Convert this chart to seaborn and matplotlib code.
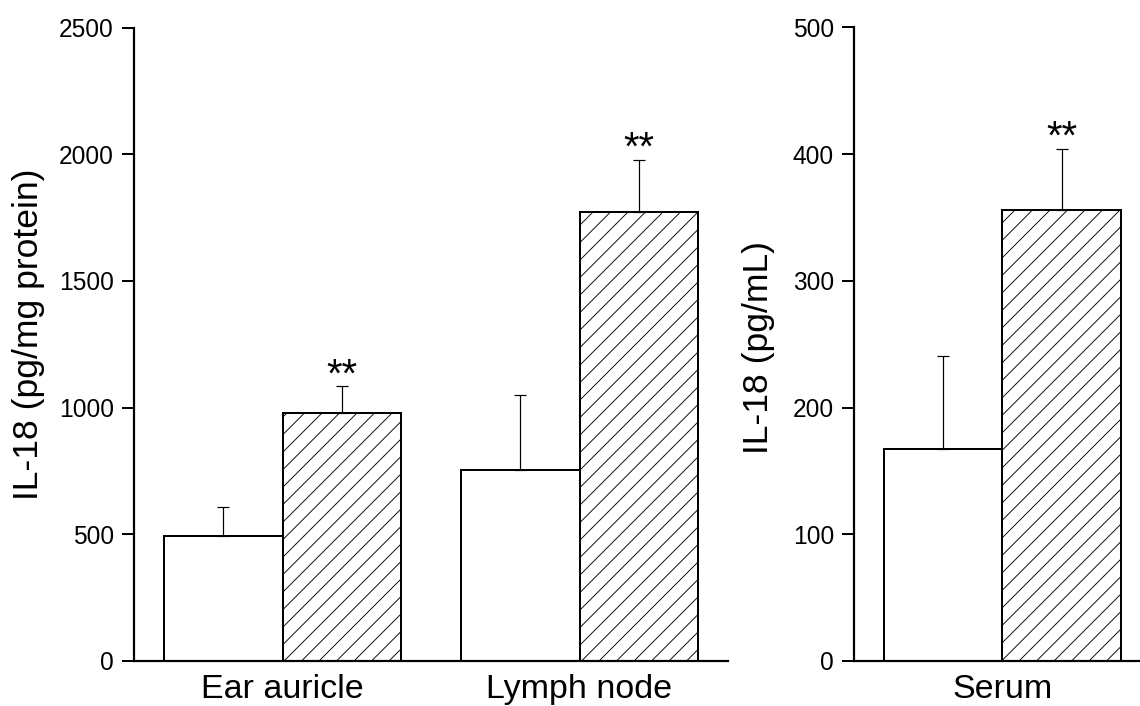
import matplotlib
matplotlib.use("Agg")
import matplotlib.pyplot as plt
import seaborn as sns
import pandas as pd
import numpy as np

# ---- data ----
groups = ["Control", "Treated"]
tissue_categories = ["Ear auricle", "Lymph node"]
tissue_control = [494, 755]
tissue_treated = [979, 1772]
tissue_control_sd = [112, 293]
tissue_treated_sd = [105, 206]
tissue_ylabel = "IL-18 (pg/mg protein)"
tissue_yticks = [0, 500, 1000, 1500, 2000, 2500]

serum_categories = ["Serum"]
serum_control = [167]
serum_treated = [356]
serum_control_sd = [74]
serum_treated_sd = [48]
serum_ylabel = "IL-18 (pg/mL)"
serum_yticks = [0, 100, 200, 300, 400, 500]

signif = "**"

DPI = 105
W, H = 1140, 706


def pt(px):
    return px * 72.0 / DPI


sns.set_theme(style="ticks")
plt.rcParams["font.family"] = ["Liberation Sans", "DejaVu Sans"]
plt.rcParams["hatch.linewidth"] = pt(0.9)
plt.rcParams["hatch.color"] = "black"
plt.rcParams["text.color"] = "black"
plt.rcParams["axes.labelcolor"] = "black"

fig = plt.figure(figsize=(W / DPI, H / DPI), dpi=DPI)
axL = fig.add_axes([134 / W, 45 / H, 594 / W, 633.5 / H])
axR = fig.add_axes([854 / W, 45 / H, 286 / W, 633.5 / H])


def draw(ax, cats, ctrl, trt, ctrl_sd, trt_sd, ylabel, yticks, xlim, labx, laby):
    df = pd.DataFrame({
        "cat": cats * 2,
        "group": [groups[0]] * len(cats) + [groups[1]] * len(cats),
        "value": list(ctrl) + list(trt),
    })
    sd = list(ctrl_sd) + list(trt_sd)
    sns.barplot(data=df, x="cat", y="value", hue="group", order=cats,
                hue_order=groups, palette=["white", "white"], width=0.8,
                edgecolor="black", linewidth=pt(2.0), errorbar=None, ax=ax,
                legend=False, saturation=1)
    bars = [p for p in ax.patches]
    for i, p in enumerate(bars):
        if i >= len(cats):
            p.set_hatch("//")
    xs = [p.get_x() + p.get_width() / 2 for p in bars]
    hs = [p.get_height() for p in bars]
    ax.errorbar(xs, hs, yerr=[np.zeros(len(sd)), sd], fmt="none",
                ecolor="black", elinewidth=pt(1.2), capsize=pt(6),
                capthick=pt(1.2), zorder=1)
    for i in range(len(cats), len(bars)):
        ax.annotate(signif, xy=(xs[i], hs[i] + sd[i]), xytext=(0, pt(-8)),
                    textcoords="offset points", ha="center", va="bottom",
                    fontsize=pt(40), color="black")
    ax.set_ylim(yticks[0], yticks[-1])
    ax.set_yticks(yticks)
    ax.set_xlim(*xlim)
    ax.set_xlabel("")
    ax.set_ylabel(ylabel, fontsize=pt(35.5), color="black")
    ax.yaxis.set_label_coords(labx, laby)
    for s in ["top", "right"]:
        ax.spines[s].set_visible(False)
    for s in ["left", "bottom"]:
        ax.spines[s].set_linewidth(pt(2.2))
        ax.spines[s].set_color("black")
    ax.tick_params(axis="y", length=pt(12), width=pt(2), pad=pt(8),
                   labelsize=pt(24.5), colors="black")
    ax.tick_params(axis="x", length=0, pad=pt(13), labelsize=pt(34),
                   colors="black")


draw(axL, tissue_categories, tissue_control, tissue_treated,
     tissue_control_sd, tissue_treated_sd, tissue_ylabel, tissue_yticks,
     (-0.5, 1.5), -0.150, 0.516)
draw(axR, serum_categories, serum_control, serum_treated,
     serum_control_sd, serum_treated_sd, serum_ylabel, serum_yticks,
     (-0.5, 0.463), -0.276, 0.495)

fig.savefig("out.png", dpi=DPI)
